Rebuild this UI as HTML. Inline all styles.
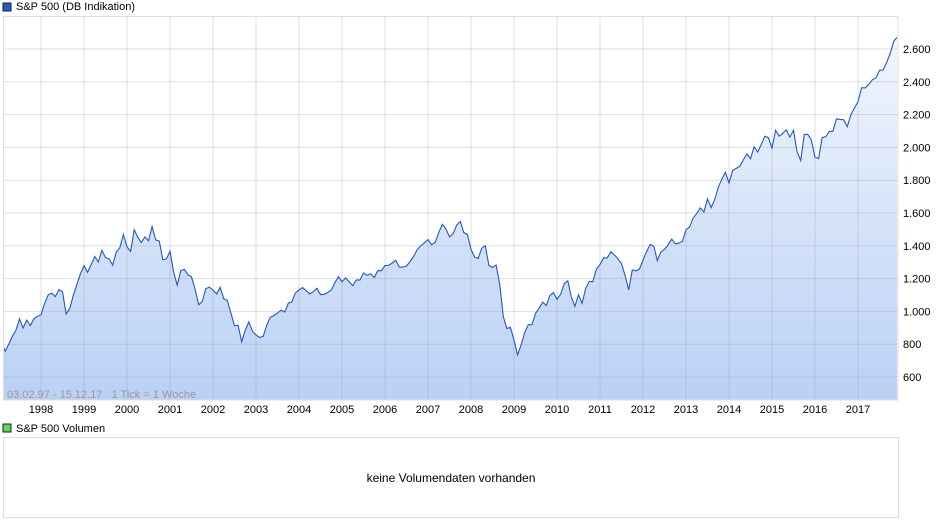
<!DOCTYPE html>
<html><head><meta charset="utf-8"><style>
body{margin:0;background:#fff;width:940px;height:526px;overflow:hidden;font-family:"Liberation Sans",sans-serif}
svg text{font-family:"Liberation Sans",sans-serif}
</style></head><body>
<svg id="c" width="940" height="526">
<defs><linearGradient id="g" x1="0" y1="0" x2="0" y2="1"><stop offset="0" stop-color="#f2f6fe"/><stop offset="1" stop-color="#bad1f5"/></linearGradient>
<clipPath id="cp"><rect x="3" y="16" width="895" height="384"/></clipPath></defs>
<rect x="3" y="3" width="8" height="8" fill="#2a5bc4" stroke="#123" stroke-width="1"/>
<text x="16" y="10" font-size="11" fill="#000">S&amp;P 500 (DB Indikation)</text>
<g id="plot"></g>
<rect x="3" y="424" width="8" height="8" fill="#5cd65c" stroke="#222" stroke-width="1"/>
<text x="16" y="432" font-size="11" fill="#000">S&amp;P 500 Volumen</text>
<rect x="3.5" y="437.5" width="895" height="80" fill="#fff" stroke="#ddd"/>
<text x="451" y="482" font-size="12" text-anchor="middle" fill="#000">keine Volumendaten vorhanden</text>
</svg>
<script>
const years=[1998,1999,2000,2001,2002,2003,2004,2005,2006,2007,2008,2009,2010,2011,2012,2013,2014,2015,2016,2017];
const yTicks=[600,800,1000,1200,1400,1600,1800,2000,2200,2400,2600];
const yTickLabels=["600","800","1.000","1.200","1.400","1.600","1.800","2.000","2.200","2.400","2.600"];
const prices=[790,757,801,848,885,954,899,947,914,955,970,
980,1049,1101,1111,1090,1133,1120,985,1017,1098,1163,1229,
1279,1238,1286,1335,1301,1372,1328,1320,1282,1362,1388,1469,
1394,1366,1498,1452,1420,1454,1430,1517,1436,1429,1315,1320,
1366,1240,1160,1249,1256,1224,1211,1134,1041,1060,1139,1148,
1130,1107,1147,1076,1067,990,912,916,815,886,936,880,
856,841,848,917,964,975,990,1008,996,1050,1058,1112,
1131,1145,1126,1107,1121,1141,1102,1104,1115,1130,1174,1212,
1181,1204,1181,1157,1192,1191,1234,1220,1229,1207,1249,1248,
1280,1281,1295,1311,1270,1270,1277,1304,1336,1378,1401,1418,
1438,1407,1421,1482,1531,1503,1455,1474,1527,1549,1481,1468,
1379,1331,1323,1386,1400,1280,1267,1283,1166,969,896,903,
826,735,798,873,919,919,987,1021,1057,1036,1096,1115,
1074,1104,1169,1187,1089,1031,1102,1049,1141,1183,1181,1258,
1286,1327,1326,1364,1345,1321,1292,1219,1131,1253,1247,1258,
1312,1366,1408,1398,1310,1362,1379,1407,1441,1412,1416,1426,
1498,1515,1569,1598,1631,1606,1686,1633,1682,1757,1806,1848,
1783,1859,1872,1884,1924,1960,1931,2003,1972,2018,2068,2059,
1995,2105,2068,2086,2107,2063,2104,1972,1920,2079,2080,2044,
1940,1932,2060,2065,2097,2099,2174,2171,2168,2126,2199,2239,
2279,2364,2363,2384,2412,2423,2470,2472,2519,2575,2648,2670];
const X=m=>41+(m-11)/12*43;
const Y=v=>377-(v-600)/200*32.8;
const NS='http://www.w3.org/2000/svg';
const plot=document.getElementById('plot');
function mk(t,a,p){const e=document.createElementNS(NS,t);for(const k in a)e.setAttribute(k,a[k]);(p||plot).appendChild(e);return e;}
const bg=mk('rect',{x:3,y:16,width:895,height:384,fill:'#fff'});


const pts=prices.map((v,i)=>[Math.max(3,X(i)),Y(v)]);
pts[pts.length-1][0]=897;
const d=pts.map((p,i)=>(i?'L':'M')+p[0].toFixed(1)+' '+p[1].toFixed(1)).join('');
const area=mk('path',{d:d+'L897 400L3 400Z',fill:'url(#g)','clip-path':'url(#cp)'});


yTicks.forEach((v,i)=>{
 const l=mk('line',{x1:3,x2:898,y1:Y(v),y2:Y(v),stroke:'rgba(150,150,150,0.3)'});
 
 
 const t=mk('text',{x:903,y:Y(v)+4,'font-size':11,fill:'#000'});
 t.textContent=yTickLabels[i];
 
 
});
const topl=mk('line',{x1:3,x2:898,y1:16.5,y2:16.5,stroke:'#ddd'});


years.forEach((yr,i)=>{
 const x=X(11+i*12);
 const l=mk('line',{x1:x,x2:x,y1:16,y2:400,stroke:'rgba(150,150,150,0.3)'});
 
 
 const t=mk('text',{x:x,y:413,'font-size':11,'text-anchor':'middle',fill:'#000'});
 t.textContent=yr;
 
 
});
const line=mk('path',{d:d,fill:'none',stroke:'#2457c5','stroke-width':1.1,'clip-path':'url(#cp)'});


const fr=mk('rect',{x:3.5,y:16.5,width:894.5,height:383.5,fill:'none',stroke:'#ddd'});


const info=mk('text',{x:7,y:398,'font-size':11,fill:'#999',style:'white-space:pre'});
info.textContent='03.02.97 - 15.12.17   1 Tick = 1 Woche';


</script>
</body></html>
